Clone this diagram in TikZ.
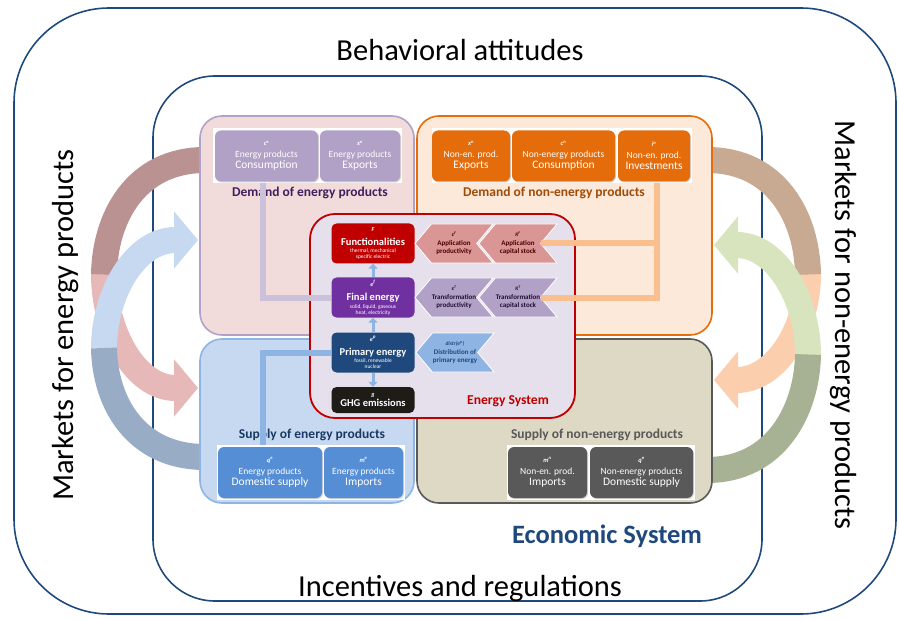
\documentclass[tikz,border=0pt]{standalone}
\usepackage{fontspec}
\setmainfont{Carlito}
\usetikzlibrary{arrows.meta, shapes.symbols, shadows, positioning}

\definecolor{ccbleu}{RGB}{31,73,125}
\definecolor{ccrouge}{RGB}{192,0,0}
\definecolor{ccviolet}{RGB}{112,48,160}
\definecolor{ccnoir}{RGB}{30,28,22}
\definecolor{cclavande}{RGB}{178,161,199}
\definecolor{ccorange}{RGB}{228,108,10}
\definecolor{ccbleuclair}{RGB}{141,180,226}
\definecolor{ccbleumoyen}{RGB}{85,142,213}
\definecolor{ccgris}{RGB}{89,89,89}
\definecolor{ccrose}{RGB}{242,220,219}
\definecolor{ccpeche}{RGB}{253,233,217}
\definecolor{ccciel}{RGB}{198,217,241}
\definecolor{ccsable}{RGB}{221,217,196}
\definecolor{ccfondES}{RGB}{230,224,236}
\definecolor{ccsaumon}{RGB}{218,150,148}
\definecolor{cclienor}{RGB}{250,191,143}
\definecolor{cclienlav}{RGB}{204,193,218}
\definecolor{ccbrun}{RGB}{185,146,145}
\definecolor{ccrosepale}{RGB}{230,184,183}
\definecolor{ccgrisbleu}{RGB}{152,172,198}
\definecolor{cctan}{RGB}{200,169,145}
\definecolor{ccpechepale}{RGB}{251,206,174}
\definecolor{ccvertpale}{RGB}{215,228,189}
\definecolor{ccsauge}{RGB}{167,178,148}

\newcommand{\etiquette}[3]{{\fontsize{6.5}{11}\selectfont\bfseries\itshape #1}\\[1pt]{\fontsize{9.5}{11}\selectfont #2}\\{\fontsize{11.5}{11}\selectfont #3}}
\newcommand{\etiqchev}[3]{{\fontsize{5.5}{8}\selectfont\bfseries\itshape #1}\\[1pt]{\fontsize{7}{8}\selectfont\bfseries #2}\\{\fontsize{7}{8}\selectfont\bfseries #3}}
\newcommand{\etiqnoeud}[4]{{\fontsize{6}{6}\selectfont\bfseries\itshape #1}\\[6pt]{\fontsize{10.5}{6}\selectfont\bfseries #2}\\[1.5pt]{\fontsize{5.5}{6}\selectfont #3}\\{\fontsize{5.5}{6}\selectfont #4}}

\begin{document}
\begin{tikzpicture}[x=1pt, y=-1pt]

  % Styles des boites et des fleches
  \tikzstyle{cadre} = [draw=ccbleu, line width=1.6, rounded corners=95]
  \tikzstyle{quartier} = [line width=1.6, rounded corners=22]
  \tikzstyle{boite} = [rectangle, rounded corners=6, minimum height=51, inner sep=0, text=white, align=center, font=\fontsize{6}{11}\selectfont, drop shadow={shadow xshift=1pt, shadow yshift=-1pt, opacity=.35}]
  \tikzstyle{noeud} = [rectangle, rounded corners=5, minimum width=83, minimum height=40, inner sep=0, text=white, align=center, font=\fontsize{6}{6}\selectfont]
  \tikzstyle{chevron} = [signal, signal to=west, signal from=east, signal pointer angle=100, minimum height=39, minimum width=78, inner sep=0, align=center, font=\fontsize{6}{8}\selectfont, draw=white, line width=0.8]
  \tikzstyle{titre} = [font=\fontsize{13.5}{15}\selectfont\bfseries]
  \tikzstyle{lien} = [line width=6]
  \tikzstyle{fleche} = [-{Triangle[length=5pt, width=9pt]}, line width=3, ccbleuclair]
  \tikzstyle{grandefleche} = [line width=26, -{Triangle[length=24pt, width=56pt]}]
  \tikzstyle{queue} = [line width=26]

  % Boite englobante
  \useasboundingbox (0,0) rectangle (899,620);

  % Cadres
  \draw[cadre] (14,8) rectangle (896,614);
  \draw[cadre, rounded corners=62, fill=white] (153,76) rectangle (762,601);

  \draw (460,50) node[font=\fontsize{30.5}{34}\selectfont] (comport) {Behavioral attitudes};
  \draw (460,589) node[font=\fontsize{30.5}{34}\selectfont] (incit) {Incentives and regulations};
  \draw (66,325) node[rotate=90, font=\fontsize{30.5}{34}\selectfont] (marcheE) {Markets for energy products};
  \draw (843,325) node[rotate=-90, font=\fontsize{30.5}{34}\selectfont] (marcheN) {Markets for non-energy products};
  \draw (607,536) node[font=\fontsize{26.5}{30}\selectfont\bfseries, text=ccbleu] (eco) {Economic System};

  % Marches : grandes fleches
  \draw[grandefleche, ccrosepale] (104,274) .. controls (104,331) and (135,388) .. (198,388);
  \draw[queue, ccbrun] (205,160) .. controls (136,160) and (105,217) .. (104,274.5);
  \draw[grandefleche, ccciel] (104,348.5) .. controls (104,294) and (135,240) .. (198,240);
  \draw[queue, ccgrisbleu] (205,457) .. controls (136,457) and (105,403) .. (104,348);
  \draw[grandefleche, ccpechepale] (808,274) .. controls (808,327) and (777,380) .. (714,380);
  \draw[queue, cctan] (707,160) .. controls (776,160) and (807,217) .. (808,274.5);
  \draw[grandefleche, ccvertpale] (808,355) .. controls (808,300) and (777,245) .. (714,245);
  \draw[queue, ccsauge] (707,470) .. controls (776,470) and (807,410) .. (808,354.5);

  % Quartiers
  \draw[quartier, draw=cclavande, fill=ccrose] (200,116) rectangle (414,335);
  \draw[quartier, draw=ccorange, fill=ccpeche] (417,116) rectangle (712,335);
  \draw[quartier, draw=ccbleuclair, fill=ccciel] (200,339) rectangle (414,503);
  \draw[quartier, draw=ccgris, fill=ccsable] (417,339) rectangle (712,503);

  % Demande et offre
  \fill[white] (213,128) rectangle (402,183);
  \fill[white] (432,128) rectangle (692,183);
  \fill[white] (217,445) rectangle (405,500);
  \fill[white] (507,445) rectangle (695,500);

  \draw (266.5,156) node[boite, fill=cclavande, minimum width=103] (cons) {\etiquette{c\textsuperscript{e}}{Energy products}{Consumption}};
  \draw (360,156) node[boite, fill=cclavande, minimum width=80] (expo) {\etiquette{x\textsuperscript{e}}{Energy products}{Exports}};
  \draw (471,156) node[boite, fill=ccorange, minimum width=78] (expoN) {\etiquette{x\textsuperscript{n}}{Non-en. prod.}{Exports}};
  \draw (563.5,156) node[boite, fill=ccorange, minimum width=103] (consN) {\etiquette{c\textsuperscript{n}}{Non-energy products}{Consumption}};
  \draw (654,156) node[boite, fill=ccorange, minimum width=72] (invN) {\etiquette{i\textsuperscript{n}}{Non-en. prod.}{Investments}};
  \draw (270,472.5) node[boite, fill=ccbleumoyen, minimum width=104] (domE) {\etiquette{q\textsuperscript{e}}{Energy products}{Domestic supply}};
  \draw (363.5,472.5) node[boite, fill=ccbleumoyen, minimum width=79] (impE) {\etiquette{m\textsuperscript{e}}{Energy products}{Imports}};
  \draw (547.5,472.5) node[boite, fill=ccgris, minimum width=79] (impN) {\etiquette{m\textsuperscript{n}}{Non-en. prod.}{Imports}};
  \draw (641.5,472.5) node[boite, fill=ccgris, minimum width=103] (domN) {\etiquette{q\textsuperscript{n}}{Non-energy products}{Domestic supply}};

  \draw (310,193) node[titre, text=ccviolet!60!black] (demE) {Demand of energy products};
  \draw (554,193) node[titre, text=ccorange!70!black] (demN) {Demand of non-energy products};
  \draw (312,435) node[titre, text=ccbleu!80!black] (offE) {Supply of energy products};
  \draw (597,435) node[titre, text=ccgris] (offN) {Supply of non-energy products};

  \coordinate (piedE) at (263,183);
  \coordinate (piedN) at (657,183);
  \coordinate (teteE) at (263,445);

  % Systeme energetique
  \draw[line width=1.8, draw=ccrouge, fill=ccfondES, rounded corners=25] (310,214) rectangle (575,418);
  \draw (508,401) node[font=\fontsize{13.6}{15}\selectfont\bfseries, text=ccrouge] (es) {Energy System};

  \draw (373,243.5) node[noeud, fill=ccrouge] (fonc) {\etiqnoeud{F}{Functionalities}{thermal, mechanical}{specific electric}};
  \draw (373,297.5) node[noeud, fill=ccviolet] (fin) {\etiqnoeud{e\textsuperscript{f}}{Final energy}{solid, liquid, gaseous}{heat, electricity}};
  \draw (373,352.5) node[noeud, fill=ccbleu] (prim) {\etiqnoeud{e\textsuperscript{p}}{Primary energy}{fossil, renewable}{nuclear}};
  \draw (373,400) node[noeud, fill=ccnoir, minimum height=26] (ghg) {{\fontsize{6}{6}\selectfont\bfseries\itshape g}\\[1pt]{\fontsize{10.5}{6}\selectfont\bfseries GHG emissions}};

  \draw (454,243.5) node[chevron, fill=ccsaumon, text=ccrouge!40!black] (prodF) {\etiqchev{ε\textsuperscript{F}}{Application}{productivity}};
  \draw (518,243.5) node[chevron, fill=ccsaumon, text=ccrouge!40!black] (kapF) {\etiqchev{K\textsuperscript{F}}{Application}{capital stock}};
  \draw (454,297.5) node[chevron, fill=cclavande, text=ccviolet!30!black] (prodT) {\etiqchev{ε\textsuperscript{T}}{Transformation}{productivity}};
  \draw (518,297.5) node[chevron, fill=cclavande, text=ccviolet!30!black] (kapT) {\etiqchev{K\textsuperscript{T}}{Transformation}{capital stock}};
  \draw (455,352.5) node[chevron, fill=ccbleuclair, text=ccbleu] (distr) {\etiqchev{distr(e\textsuperscript{p})}{Distribution of}{primary energy}};

  % Fleches internes
  \draw[fleche] (fin) -- (fonc);
  \draw[fleche] (prim) -- (fin);
  \draw[fleche] (prim) -- (ghg);

  % Liens demande / offre
  \draw[lien, cclienlav] (fin.west) -| (piedE);
  \draw[lien, ccbleuclair] (prim.west) -| (teteE);
  \draw[lien, cclienor] (kapT.east) -| (piedN);
  \draw[lien, cclienor] (kapF.east) -- (kapF.east -| piedN);

\end{tikzpicture}
\end{document}
